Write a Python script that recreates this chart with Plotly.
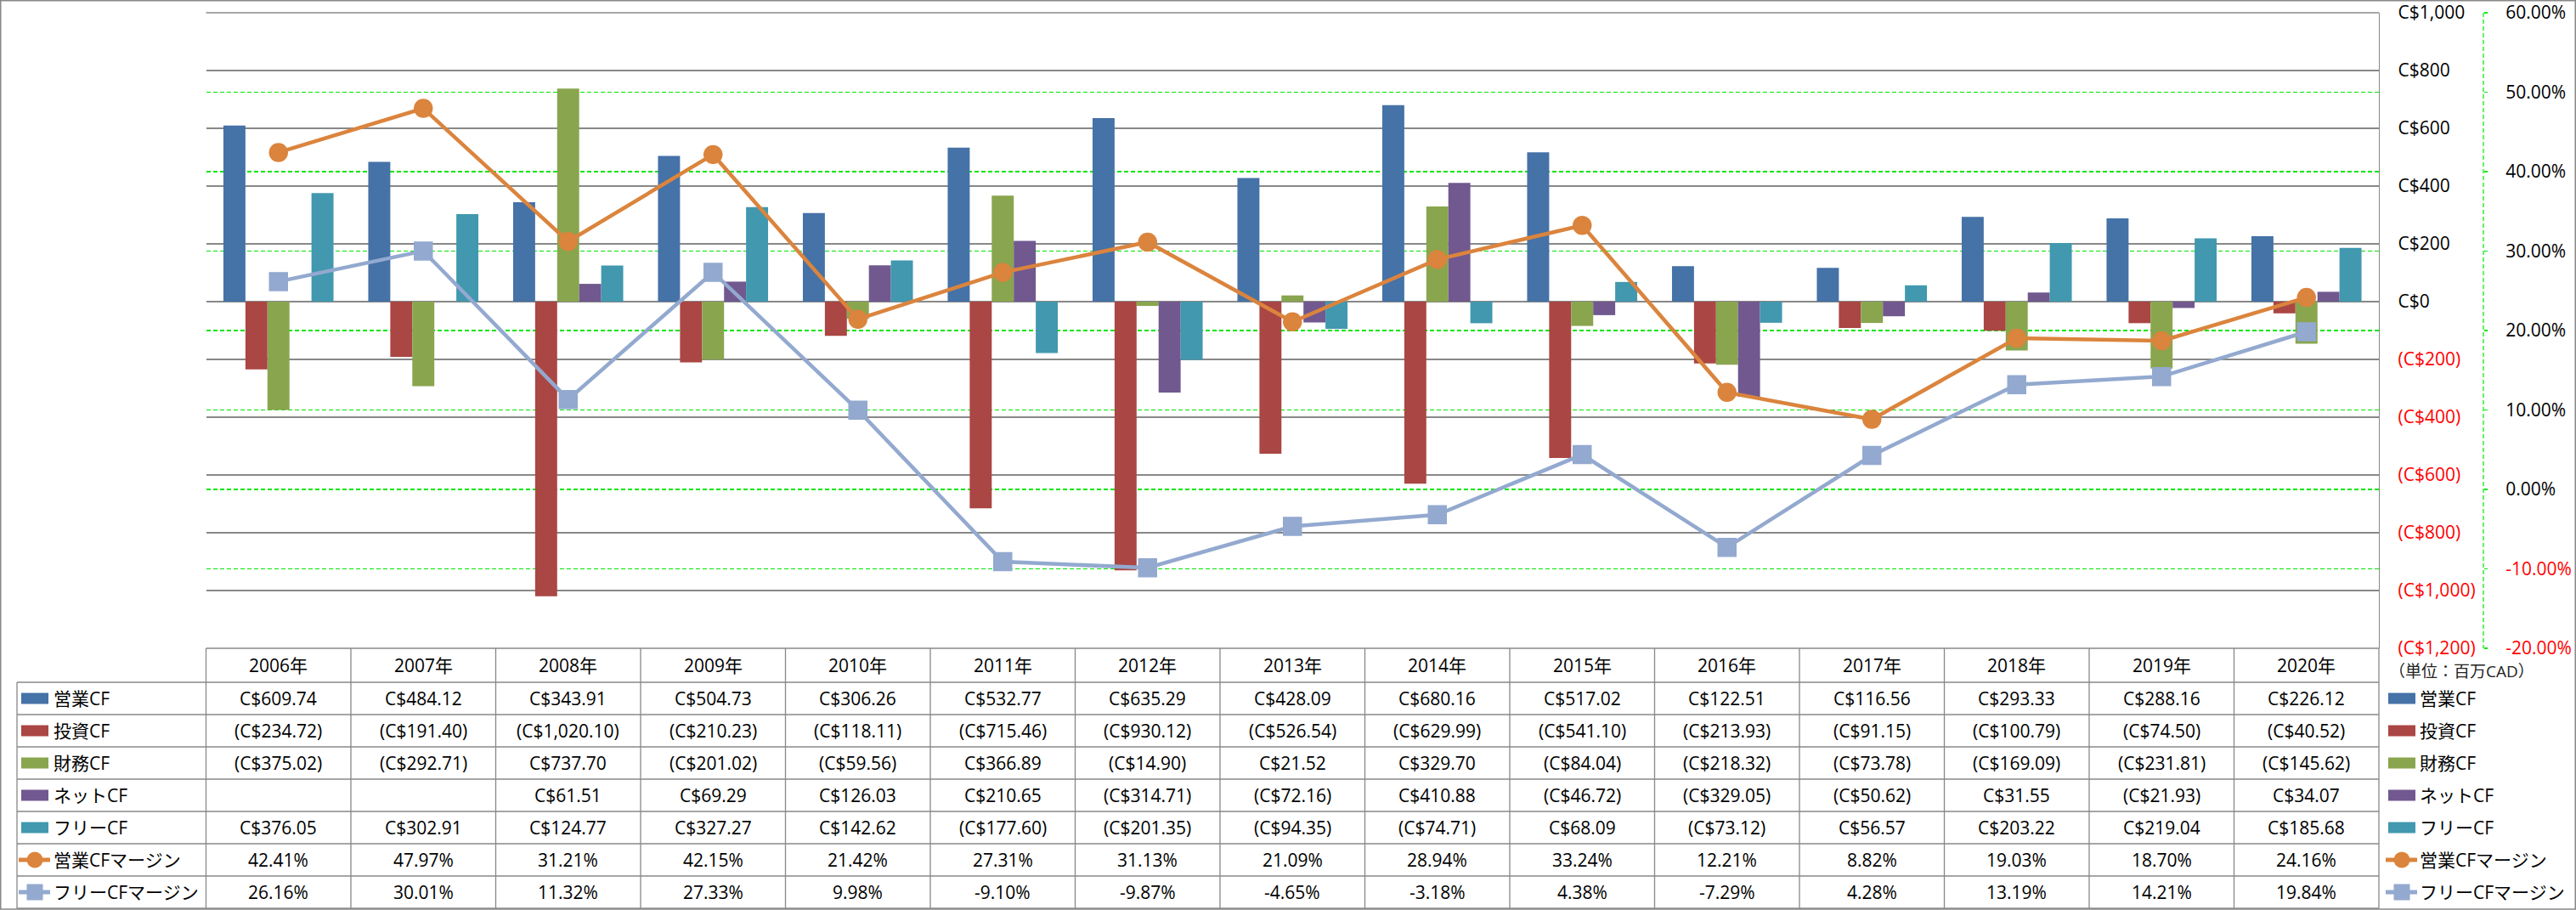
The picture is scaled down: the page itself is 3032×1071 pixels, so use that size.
import plotly.graph_objects as go

# ---------------- data ----------------
years = ["2006年", "2007年", "2008年", "2009年", "2010年", "2011年", "2012年", "2013年",
         "2014年", "2015年", "2016年", "2017年", "2018年", "2019年", "2020年"]
operating_cf = [609.74, 484.12, 343.91, 504.73, 306.26, 532.77, 635.29, 428.09,
                680.16, 517.02, 122.51, 116.56, 293.33, 288.16, 226.12]
investing_cf = [-234.72, -191.40, -1020.10, -210.23, -118.11, -715.46, -930.12, -526.54,
                -629.99, -541.10, -213.93, -91.15, -100.79, -74.50, -40.52]
financing_cf = [-375.02, -292.71, 737.70, -201.02, -59.56, 366.89, -14.90, 21.52,
                329.70, -84.04, -218.32, -73.78, -169.09, -231.81, -145.62]
net_cf = [None, None, 61.51, 69.29, 126.03, 210.65, -314.71, -72.16,
          410.88, -46.72, -329.05, -50.62, 31.55, -21.93, 34.07]
free_cf = [376.05, 302.91, 124.77, 327.27, 142.62, -177.60, -201.35, -94.35,
           -74.71, 68.09, -73.12, 56.57, 203.22, 219.04, 185.68]
op_margin = [42.41, 47.97, 31.21, 42.15, 21.42, 27.31, 31.13, 21.09,
             28.94, 33.24, 12.21, 8.82, 19.03, 18.70, 24.16]
free_margin = [26.16, 30.01, 11.32, 27.33, 9.98, -9.10, -9.87, -4.65,
               -3.18, 4.38, -7.29, 4.28, 13.19, 14.21, 19.84]

bar_names = ["営業CF", "投資CF", "財務CF", "ネットCF", "フリーCF"]
line_names = ["営業CFマージン", "フリーCFマージン"]
money_ticks = [-1200, -1000, -800, -600, -400, -200, 0, 200, 400, 600, 800, 1000]
pct_ticks = [-20, -10, 0, 10, 20, 30, 40, 50, 60]
unit_label = "（単位：百万CAD）"

# ---------------- styling ----------------
W, H = 3032, 1071
PL, PR = 242.5, 2800.0      # plot area left/right (px)
PT, PB = 15.0, 763.0        # plot area top/bottom (px)
Y2X = 2923.0                # secondary axis line x (px)
HEAD_H = 40.0
ROW_H = 38.0
TBL_L = 20.0
FONT = "Open Sans, Noto Sans CJK JP, sans-serif"
FS = 21
GRID = "#888888"
GREEN = "#00e600"
RED = "#ff0000"
bar_colors = ["#4572A7", "#AA4643", "#89A54E", "#71588F", "#4198AF"]
line_colors = ["#DB843D", "#93A9CF"]
line_symbols = ["circle", "square"]


def px_x(v):
    return v / W


def px_y(v):
    return 1 - v / H


def money(v):
    if v is None:
        return ""
    s = "C${:,.2f}".format(abs(v))
    return "({})".format(s) if v < 0 else s


def pct(v):
    return "{:.2f}%".format(v)


bar_series = [operating_cf, investing_cf, financing_cf, net_cf, free_cf]
line_series = [op_margin, free_margin]
xs = list(range(len(years)))

fig = go.Figure()
for i, (name, vals) in enumerate(zip(bar_names, bar_series)):
    fig.add_trace(go.Bar(
        x=xs, y=vals, name=name, marker=dict(color=bar_colors[i], line=dict(width=0)),
        offsetgroup=str(i), showlegend=False, hoverinfo="skip"))

for i, (name, vals) in enumerate(zip(line_names, line_series)):
    fig.add_trace(go.Scatter(
        x=xs, y=vals, name=name, yaxis="y2", mode="lines+markers",
        line=dict(color=line_colors[i], width=4.5),
        marker=dict(symbol=line_symbols[i], size=21, color=line_colors[i],
                    line=dict(color=line_colors[i], width=1.5)),
        showlegend=False, hoverinfo="skip"))


def money_tick(v):
    if v < 0:
        return '<span style="color:{}">(C${:,})</span>'.format(RED, abs(v))
    return "C${:,}".format(v)


def pct_tick(v):
    t = "{:.2f}%".format(v)
    if v < 0:
        return '<span style="color:{}">{}</span>'.format(RED, t)
    return t


ydom = [px_y(PB), px_y(PT)]
fig.update_layout(
    template="none",
    width=W, height=H, autosize=False,
    margin=dict(l=0, r=0, t=0, b=0, pad=0, autoexpand=False),
    paper_bgcolor="white", plot_bgcolor="white",
    barmode="group", bargap=0.24, bargroupgap=0,
    font=dict(family=FONT, size=FS, color="black"),
    xaxis=dict(domain=[px_x(PL), px_x(PR)], range=[-0.5, len(years) - 0.5],
               showticklabels=False, showgrid=False, zeroline=False, showline=False,
               ticks="", automargin=False),
    yaxis=dict(domain=ydom, range=[-1200, 1000], side="right",
               tickvals=money_ticks, ticktext=[money_tick(v) for v in money_ticks],
               showgrid=True, gridcolor=GRID, gridwidth=1.3, zeroline=False,
               showline=True, linecolor=GRID, linewidth=1.3, ticks="",
               ticklabelstandoff=17, ticklabeloverflow="allow", automargin=False,
               tickfont=dict(size=FS, family=FONT)),
    yaxis2=dict(domain=ydom, range=[-20, 60], overlaying="y", side="right",
                anchor="free", position=px_x(Y2X),
                tickvals=pct_ticks, ticktext=[pct_tick(v) for v in pct_ticks],
                showgrid=True, gridcolor=GREEN, gridwidth=1.2, griddash="5px,3px",
                zeroline=False, showline=False, ticks="outside", ticklen=4,
                tickcolor=GREEN, tickwidth=1.2, ticklabelstandoff=17,
                ticklabeloverflow="allow", automargin=False,
                tickfont=dict(size=FS, family=FONT)),
)

shapes = []
annotations = []


def hline(x0, x1, y, color=GRID, width=1.3, dash="solid", layer="above"):
    shapes.append(dict(type="line", xref="paper", yref="paper", layer=layer,
                       x0=px_x(x0), x1=px_x(x1), y0=px_y(y), y1=px_y(y),
                       line=dict(color=color, width=width, dash=dash)))


def vline(x, y0, y1, color=GRID, width=1.3, dash="solid"):
    shapes.append(dict(type="line", xref="paper", yref="paper",
                       x0=px_x(x), x1=px_x(x), y0=px_y(y0), y1=px_y(y1),
                       line=dict(color=color, width=width, dash=dash)))


# top edge of the plot area (C$1,000 gridline)
hline(PL, PR, PT, layer="below")

# secondary axis dashed line
vline(Y2X, PT, PB, color=GREEN, width=1.2, dash="5px,3px")

# outer frame
shapes.append(dict(type="rect", xref="paper", yref="paper",
                   x0=px_x(0.75), x1=px_x(W - 0.75), y0=px_y(0.75), y1=px_y(H - 1.0),
                   line=dict(color=GRID, width=1.5), fillcolor="rgba(0,0,0,0)"))

# table grid
ncol = len(years)
colw = (PR - PL) / ncol
tbl_top = PB
row_top = PB + HEAD_H
nrows = len(bar_names) + len(line_names)
tbl_bot = row_top + nrows * ROW_H
hline(PL, PR, tbl_top)
for r in range(nrows + 1):
    hline(TBL_L, PR, row_top + r * ROW_H)
vline(TBL_L, row_top, tbl_bot)
for c in range(ncol + 1):
    vline(PL + c * colw, tbl_top, tbl_bot)

# header
for c, yr in enumerate(years):
    annotations.append(dict(x=c, xref="x", y=px_y(tbl_top + HEAD_H / 2), yref="paper",
                            text=yr, showarrow=False, xanchor="center", yanchor="middle",
                            font=dict(size=FS, family=FONT, color="black")))

# rows
row_texts = [[money(v) for v in s] for s in bar_series] + [[pct(v) for v in s] for s in line_series]
row_names = bar_names + line_names
for r in range(nrows):
    yc = row_top + r * ROW_H + ROW_H / 2
    for c in range(ncol):
        annotations.append(dict(x=c, xref="x", y=px_y(yc), yref="paper",
                                text=row_texts[r][c], showarrow=False,
                                xanchor="center", yanchor="middle",
                                font=dict(size=FS, family=FONT, color="black")))


def legend_icon(r, xs0, xs1, yc):
    if r < len(bar_names):
        shapes.append(dict(type="rect", xref="paper", yref="paper",
                           x0=px_x(xs0), x1=px_x(xs1), y0=px_y(yc + 6.5), y1=px_y(yc - 6.5),
                           line=dict(width=0), fillcolor=bar_colors[r]))
    else:
        k = r - len(bar_names)
        col = line_colors[k]
        shapes.append(dict(type="line", xref="paper", yref="paper",
                           x0=px_x(xs0 - 3), x1=px_x(xs1 + 2), y0=px_y(yc), y1=px_y(yc),
                           line=dict(color=col, width=5)))
        cx = (xs0 + xs1) / 2
        half = 9.5
        shapes.append(dict(type="circle" if k == 0 else "rect", xref="paper", yref="paper",
                           x0=px_x(cx - half), x1=px_x(cx + half),
                           y0=px_y(yc + half), y1=px_y(yc - half),
                           line=dict(width=0), fillcolor=col))


# left row labels and right legend
for r in range(nrows):
    yc = row_top + r * ROW_H + ROW_H / 2
    legend_icon(r, 25, 57, yc)
    annotations.append(dict(x=px_x(61), xref="paper", y=px_y(yc), yref="paper",
                            text=row_names[r], showarrow=False, xanchor="left", yanchor="middle",
                            font=dict(size=FS, family=FONT, color="black")))
    legend_icon(r, 2811, 2843, yc)
    annotations.append(dict(x=px_x(2846), xref="paper", y=px_y(yc), yref="paper",
                            text=row_names[r], showarrow=False, xanchor="left", yanchor="middle",
                            font=dict(size=FS, family=FONT, color="black")))

annotations.append(dict(x=px_x(2810), xref="paper", y=px_y(790), yref="paper",
                        text=unit_label, showarrow=False, xanchor="left", yanchor="middle",
                        font=dict(size=19, family=FONT, color="#222222")))

fig.update_layout(shapes=shapes, annotations=annotations)
fig.write_html(
    "out.html",
    config={"displayModeBar": False, "staticPlot": True},
    post_script="document.body.style.margin='0';document.body.style.overflow='hidden';",
)
